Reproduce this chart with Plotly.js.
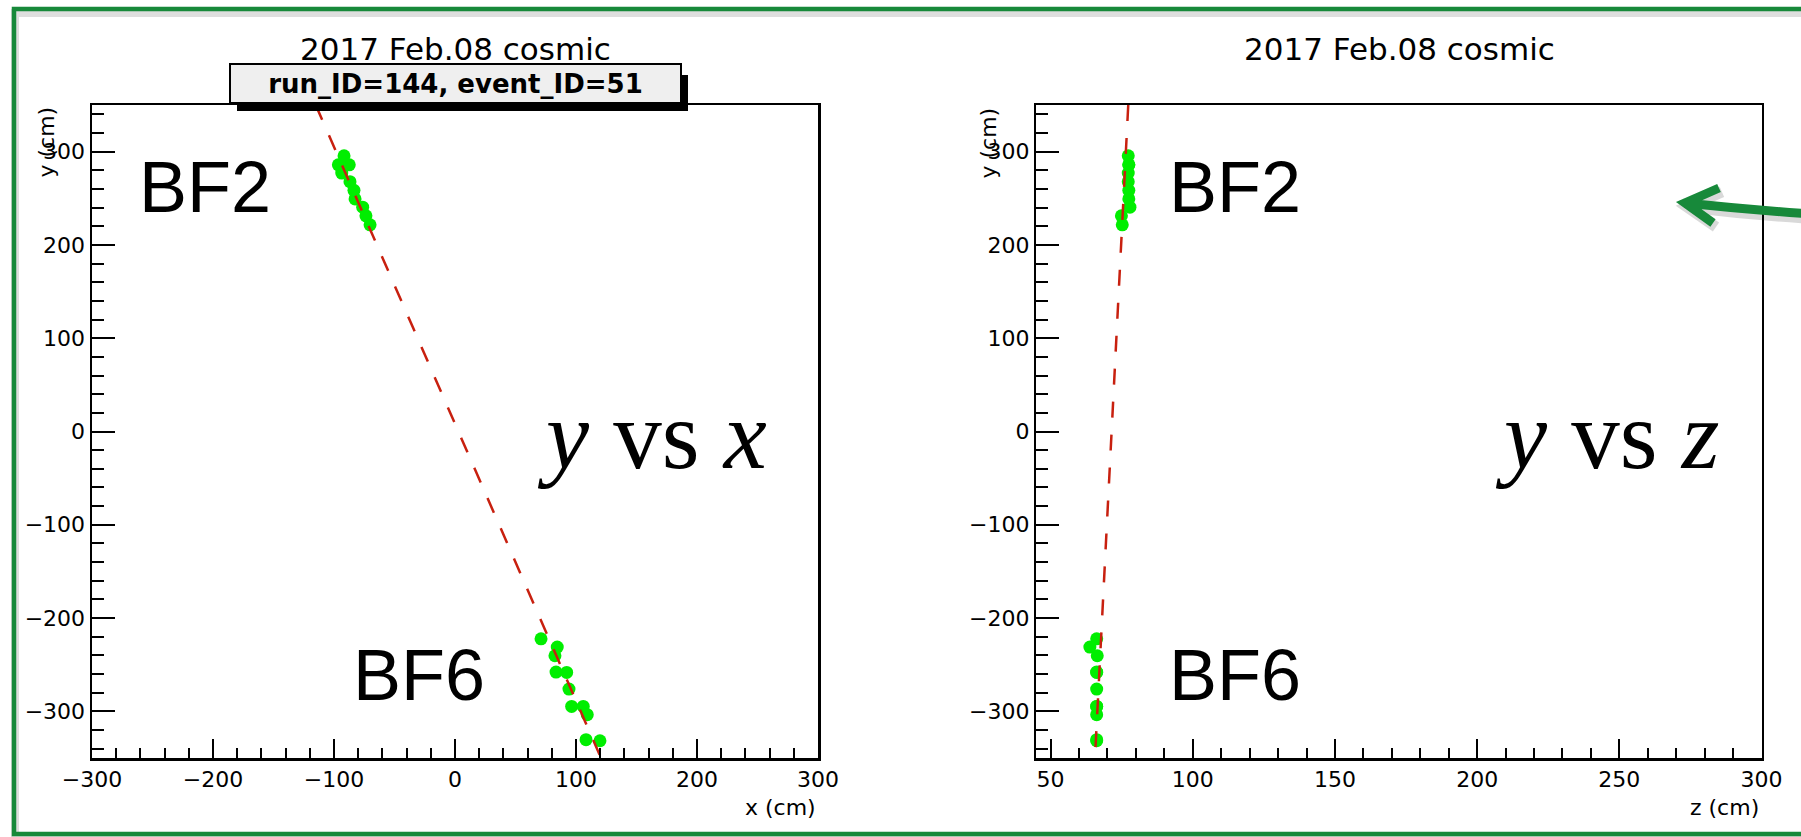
<!DOCTYPE html>
<html>
<head>
<meta charset="utf-8">
<script src="https://cdn.plot.ly/plotly-3.0.1.min.js"></script>
<style>html,body{margin:0;padding:0;background:#fff;}#chart{width:1801px;height:837px;}</style>
</head>
<body>
<div id="chart"></div>
<script>
// ---- data ----
const bf2_x = [-91.7, -96.4, -87.4, -93.6, -86.8, -83.5, -82.6, -76.3, -73.6, -70.2];
const bf2_y = [295.5, 285.9, 285.9, 277.0, 267.8, 258.5, 249.3, 240.5, 231.2, 221.5];
const bf2_z = [77.3, 77.5, 77.5, 77.3, 77.3, 77.5, 77.5, 77.9, 74.9, 75.2];
const bf6_x = [71.1, 84.5, 82.6, 83.5, 92.3, 94.2, 96.4, 106.0, 109.3, 108.3, 119.8];
const bf6_y = [-222.2, -231.1, -240.4, -257.9, -258.3, -276.1, -294.7, -294.7, -303.6, -330.4, -331.5];
const bf6_z = [66.2, 63.8, 66.4, 66.2, 66.2, 66.2, 66.2, 66.2, 66.2, 66.2, 66.2];
const fit_y = [350, -350];
const fit_x = [-115.1, 120.7];
const fit_z = [77.3, 65.6];
const plotTitle = "2017 Feb.08 cosmic";
const eventLabel = "run_ID=144, event_ID=51";
const detTop = "BF2", detBottom = "BF6";

// ---- helpers (pixel -> paper) ----
const W = 1801, H = 837;
const X = p => p / W, Y = p => 1 - p / H;

const hitColor = '#00ee00';
const fitStyle = {color: '#c8200f', width: 2.5, dash: '16px,17px'};

const traces = [
  {x: bf2_x.concat(bf6_x), y: bf2_y.concat(bf6_y), xaxis: 'x', yaxis: 'y', mode: 'markers',
   marker: {color: hitColor, size: 13}, hoverinfo: 'skip'},
  {x: fit_x, y: fit_y, xaxis: 'x', yaxis: 'y', mode: 'lines', line: fitStyle, hoverinfo: 'skip'},
  {x: bf2_z.concat(bf6_z), y: bf2_y.concat(bf6_y), xaxis: 'x2', yaxis: 'y2', mode: 'markers',
   marker: {color: hitColor, size: 13}, hoverinfo: 'skip'},
  {x: fit_z, y: fit_y, xaxis: 'x2', yaxis: 'y2', mode: 'lines', line: fitStyle, hoverinfo: 'skip'}
];

const tickFont = {family: 'DejaVu Sans', size: 22, color: '#000'};
function xAxis(domain, range, dtick, mdtick, anchor) {
  return {domain, range, anchor, showline: true, linewidth: 2.5, linecolor: '#000', mirror: true,
    ticks: 'inside', ticklen: 19, tickwidth: 2, tickcolor: '#000', dtick, tick0: 0,
    showgrid: false, zeroline: false, tickfont: tickFont, fixedrange: true,
    minor: {ticks: 'inside', ticklen: 10, tickwidth: 2, tickcolor: '#000', dtick: mdtick, tick0: 0, showgrid: false}};
}
function yAxis(domain, anchor) {
  return {domain, range: [-350, 350], anchor, showline: true, linewidth: 2.5, linecolor: '#000', mirror: true,
    ticks: 'inside', ticklen: 23, tickwidth: 2, tickcolor: '#000', dtick: 100, tick0: 0,
    showgrid: false, zeroline: false, tickfont: tickFont, fixedrange: true,
    minor: {ticks: 'inside', ticklen: 11.5, tickwidth: 2, tickcolor: '#000', dtick: 20, tick0: 0, showgrid: false}};
}
const yDom = [Y(758), Y(105)];

function ann(text, px, py, opts) {
  return Object.assign({text, x: X(px), y: Y(py), xref: 'paper', yref: 'paper', showarrow: false,
    xanchor: 'center', yanchor: 'middle'}, opts);
}
const rootFont = s => ({family: 'DejaVu Sans', size: s, color: '#000'});
const bigFont = {family: 'Liberation Sans, Arial, sans-serif', size: 72, color: '#000'};
const serifFont = {family: 'Liberation Serif, Times New Roman, serif', size: 97, color: '#000'};

const annotations = [
  ann(plotTitle, 455, 49, {font: rootFont(31)}),
  ann(plotTitle, 1399, 49, {font: rootFont(31)}),
  ann('<b>' + eventLabel + '</b>', 455.7, 83.7, {font: rootFont(26), bgcolor: '#efefef', bordercolor: '#000',
    borderwidth: 2, borderpad: 0, width: 449, height: 37}),
  ann('y (cm)', 46, 105, {font: rootFont(22), textangle: -90, yanchor: 'top'}),
  ann('y (cm)', 988, 105, {font: rootFont(22), textangle: -90, yanchor: 'top'}),
  ann('x (cm)', 818, 807, {font: rootFont(22), xanchor: 'right'}),
  ann('z (cm)', 1761, 807, {font: rootFont(22), xanchor: 'right'}),
  ann(detTop, 205, 187, {font: bigFont}),
  ann(detBottom, 419, 675, {font: bigFont}),
  ann(detTop, 1235, 187, {font: bigFont}),
  ann(detBottom, 1235, 675, {font: bigFont}),
  ann('<i>y</i> vs <i>x</i>', 652, 436, {font: serifFont}),
  ann('<i>y</i> vs <i>z</i>', 1607, 436, {font: serifFont})
];

const green = '#17893a';
const shapes = [
  // slide border shadow + border
  {type: 'rect', xref: 'paper', yref: 'paper', x0: X(15), x1: X(1830), y0: Y(13), y1: Y(838),
   line: {color: 'rgba(0,0,0,0.13)', width: 8}},
  {type: 'rect', xref: 'paper', yref: 'paper', x0: X(14), x1: X(1830), y0: Y(9), y1: Y(834),
   line: {color: green, width: 4.5}},
  // event box shadow
  {type: 'rect', xref: 'paper', yref: 'paper', x0: X(237), x1: X(688), y0: Y(75), y1: Y(111),
   fillcolor: '#000', line: {width: 0}},
  // arrow shadow
  {type: 'path', xref: 'paper', yref: 'paper',
   path: `M ${X(1806)} ${Y(218)} Q ${X(1745)} ${Y(214)} ${X(1687)} ${Y(207)} M ${X(1722)} ${Y(192)} L ${X(1687)} ${Y(207)} L ${X(1716)} ${Y(227)}`,
   line: {color: 'rgba(0,0,0,0.15)', width: 11}},
  // arrow
  {type: 'path', xref: 'paper', yref: 'paper',
   path: `M ${X(1803)} ${Y(213.5)} Q ${X(1742)} ${Y(209)} ${X(1685)} ${Y(203)} M ${X(1719)} ${Y(188)} L ${X(1685)} ${Y(203)} L ${X(1713)} ${Y(223)}`,
   line: {color: green, width: 9}}
];

const layout = {
  width: W, height: H, margin: {l: 0, r: 0, t: 0, b: 0, pad: 0},
  paper_bgcolor: '#fff', plot_bgcolor: '#fff', showlegend: false,
  xaxis: xAxis([X(92), X(818)], [-300, 300], 100, 20, 'y'),
  yaxis: yAxis(yDom, 'x'),
  xaxis2: xAxis([X(1036.4), X(1761.5)], [45, 300], 50, 10, 'y2'),
  yaxis2: yAxis(yDom, 'x2'),
  annotations, shapes
};

Plotly.newPlot('chart', traces, layout, {displayModeBar: false, staticPlot: true});
</script>
</body>
</html>
